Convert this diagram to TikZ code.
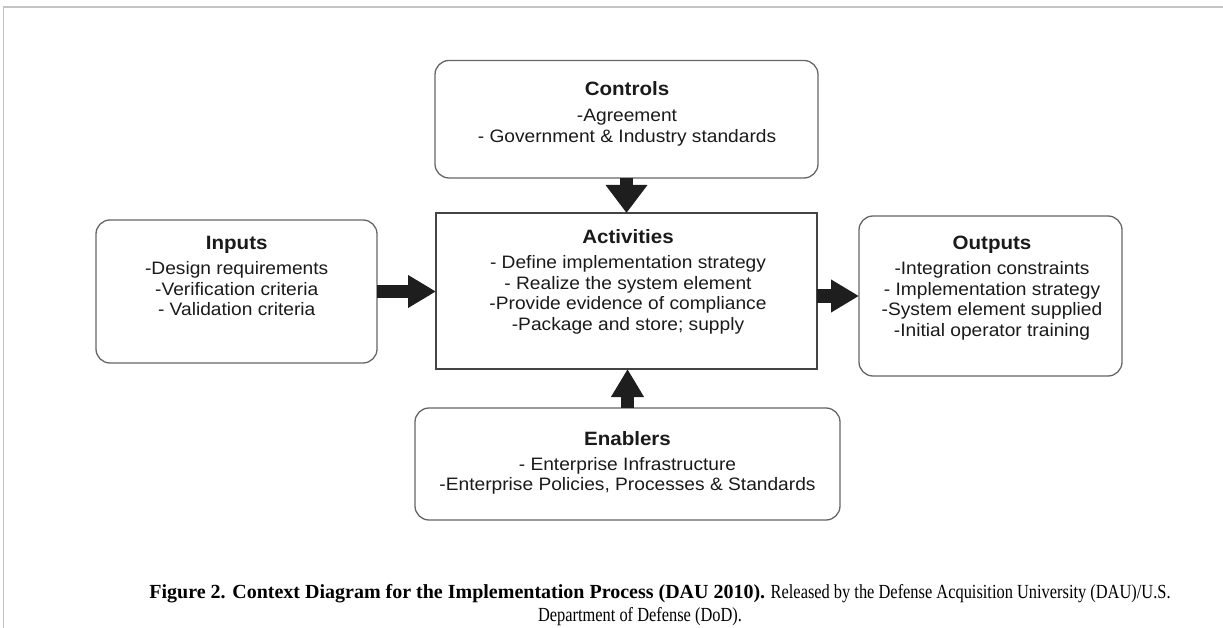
\documentclass[tikz,border=0pt]{standalone}
\usepackage{fontspec}
\setmainfont{Liberation Serif}
\newfontfamily\arialf[FakeStretch=1.065]{Liberation Sans}
\newfontfamily\capfont[FakeStretch=0.82]{Liberation Serif}
\newfontfamily\capbold[FakeStretch=1.0]{Liberation Serif}
\usetikzlibrary{arrows.meta}
\definecolor{boxgray}{HTML}{666666}
\definecolor{actgray}{HTML}{444444}
\definecolor{txt}{HTML}{1A1A1A}
\definecolor{arrcol}{HTML}{1E1E1E}
\definecolor{framegray}{HTML}{C4C4C4}
\tikzset{
  rbox/.style={draw=boxgray, line width=1.3pt, rounded corners=14pt, inner sep=0pt, outer sep=0pt},
  actbox/.style={draw=actgray, line width=1.3pt, inner sep=0pt, outer sep=0pt},
  ttl/.style={font=\arialf\fontsize{19.3}{24}\selectfont\bfseries, inner sep=0pt, anchor=base, text=txt},
  bdy/.style={font=\arialf\fontsize{18}{20.5}\selectfont, inner sep=0pt, anchor=base, text=txt},
  arr/.style={line width=13pt, draw=arrcol, -{Triangle[width=31pt,length=28pt]}},
  arrwide/.style={line width=13pt, draw=arrcol, -{Triangle[width=40pt,length=28pt]}},
  capf/.style={font=\capfont\fontsize{20}{23}\selectfont, inner sep=0pt, anchor=base, text=black}
}
\begin{document}
\begin{tikzpicture}[x=1pt,y=-1pt]
\useasboundingbox (0,0) rectangle (1223,628);
% page frame
\draw[framegray, line width=2pt] (3,7) -- (1223,7);
\draw[framegray, line width=1pt] (3.5,7) -- (3.5,628);

% boxes
\node[rbox, minimum width=383pt, minimum height=117.5pt] (ctl) at (626.5,119.25) {};
\node[actbox, minimum width=381pt, minimum height=156pt] (act) at (626.5,291) {};
\node[rbox, minimum width=281pt, minimum height=143pt] (inp) at (236.5,291.5) {};
\node[rbox, minimum width=263pt, minimum height=160pt] (out) at (990.5,296) {};
\node[rbox, minimum width=425pt, minimum height=112pt] (enb) at (627.5,464) {};

% texts
\node[ttl] (ctlT) at (627,96) {Controls};
\node[bdy] (ctlB) at (627,122) {\begin{tabular}[t]{@{}c@{}}-Agreement\\- Government \& Industry standards\end{tabular}};

\node[ttl] (actT) at (628,243.3) {Activities};
\node[bdy] (actB) at (628,269) {\begin{tabular}[t]{@{}c@{}}- Define implementation strategy\\- Realize the system element\\-Provide evidence of compliance\\-Package and store; supply\end{tabular}};

\node[ttl] (inpT) at (236.7,250) {Inputs};
\node[bdy] (inpB) at (236.7,275) {\begin{tabular}[t]{@{}c@{}}-Design requirements\\-Verification criteria\\- Validation criteria\end{tabular}};

\node[ttl] (outT) at (992,250) {Outputs};
\node[bdy] (outB) at (992,275) {\begin{tabular}[t]{@{}c@{}}-Integration constraints\\- Implementation strategy\\-System element supplied\\-Initial operator training\end{tabular}};

\node[ttl] (enbT) at (627.5,445.7) {Enablers};
\node[bdy] (enbB) at (627.5,470) {\begin{tabular}[t]{@{}c@{}}- Enterprise Infrastructure\\-Enterprise Policies, Processes \& Standards\end{tabular}};

% arrows
\draw[arr] (inp.east) -- (inp.east -| act.west);
\draw[arrwide] (ctl.south) -- (ctl.south |- act.north);
\draw[arr] (act.east |- out.west) -- (out.west);
\draw[arr] (enb.north) -- (enb.north |- act.south);

% caption
\node[capf] (cap1) at (660,598) {{\capbold\bfseries Figure 2. Context Diagram for the Implementation Process (DAU 2010).} Released by the Defense Acquisition University (DAU)/U.S.};
\node[capf] (cap2) at (640,621) {Department of Defense (DoD).};
\end{tikzpicture}
\end{document}
